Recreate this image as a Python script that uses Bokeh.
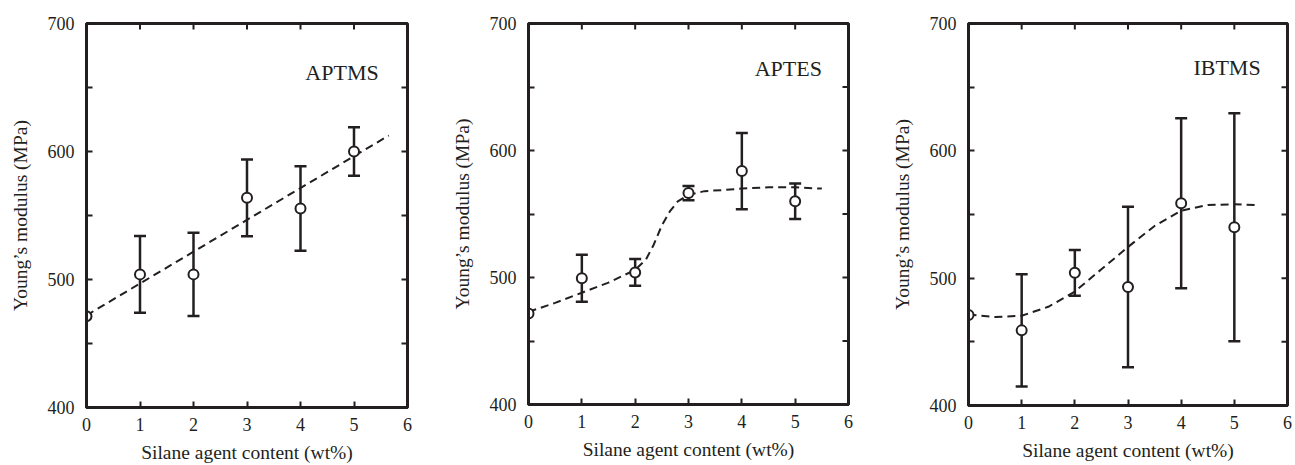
import math
from bokeh.plotting import figure
from bokeh.layouts import row
from bokeh.models import (Range1d, FixedTicker, Whisker, TeeHead,
                          ColumnDataSource, Label)
from bokeh.embed import file_html
from bokeh.resources import INLINE

# ---- data ----
content = [0, 1, 2, 3, 4, 5]
x_ticks = [0, 1, 2, 3, 4, 5, 6]
y_major = [400, 500, 600, 700]
y_minor = [450, 550, 650]
x_lim = (0, 6)
y_lim = (400, 700)

aptms_mean = [471.3, 504, 504, 563.8, 555.5, 600]
aptms_err = [0, 30, 32.5, 30, 33, 19]
aptms_fit_x = [0, 5.65]
aptms_fit_y = [472, 612.5]

aptes_mean = [471.7, 499.5, 504, 566.5, 583.8, 560]
aptes_err = [0, 18.5, 10.5, 5.6, 30, 14]
aptes_fit_x = [0, 0.5, 1, 1.5, 2, 2.2, 2.35, 2.5, 2.65, 2.8, 3.0, 3.3, 3.7, 4, 4.5, 5, 5.5]
aptes_fit_y = [473, 480, 488, 496, 506, 514, 526, 541, 552, 560, 565, 568, 569, 570, 571, 571, 570]

ibtms_mean = [471, 459, 504.2, 493, 558.8, 540]
ibtms_err = [0, 44, 18, 63, 66.7, 89.5]
ibtms_fit_x = [0, 0.5, 1, 1.5, 2, 2.5, 3, 3.5, 4, 4.5, 5, 5.4]
ibtms_fit_y = [471.5, 469.5, 470.5, 477.5, 489.5, 507, 524.5, 541, 553, 557.5, 558, 557.5]

INK = "#231f20"
FONT = "Liberation Serif"


def style_axis(ax):
    ax.axis_line_color = INK
    ax.axis_line_width = 3
    ax.major_tick_line_color = INK
    ax.minor_tick_line_color = INK
    ax.major_tick_line_width = 2
    ax.minor_tick_line_width = 2
    ax.major_tick_in = 6
    ax.major_tick_out = 0
    ax.minor_tick_in = 6
    ax.minor_tick_out = 0
    ax.major_label_text_font = FONT
    ax.major_label_text_color = INK
    ax.major_label_text_font_size = "18px"
    ax.axis_label_text_font = FONT
    ax.axis_label_text_font_style = "normal"
    ax.axis_label_text_color = INK
    ax.axis_label_text_font_size = "19.5px"


def panel(name, mean, err, fit_x, fit_y, lab_x, lab_y,
          top, left, right, bottom, frame_w, frame_h):
    p = figure(frame_width=frame_w, frame_height=frame_h,
               x_range=Range1d(*x_lim), y_range=Range1d(*y_lim),
               output_backend="svg", toolbar_location=None,
               min_border_top=top, min_border_left=left,
               min_border_right=right, min_border_bottom=bottom,
               x_axis_label="Silane agent content (wt%)",
               y_axis_label="Young\u2019s modulus (MPa)")
    p.background_fill_color = "white"
    p.border_fill_color = "white"
    p.outline_line_color = INK
    p.outline_line_width = 3
    p.grid.visible = False

    p.xaxis.ticker = FixedTicker(ticks=x_ticks, minor_ticks=[])
    p.yaxis.ticker = FixedTicker(ticks=y_major, minor_ticks=y_minor)
    style_axis(p.xaxis[0])
    style_axis(p.yaxis[0])
    p.xaxis[0].major_label_standoff = 10
    p.xaxis[0].axis_label_standoff = 8
    p.yaxis[0].major_label_standoff = 12
    p.yaxis[0].axis_label_standoff = 14

    # inward ticks on the top and right frame edges
    p.ray(x=x_ticks[1:-1], y=[y_lim[1]] * (len(x_ticks) - 2), length=6,
          length_units="screen", angle=-math.pi / 2,
          line_color=INK, line_width=2)
    yt = sorted(y_major[1:-1] + y_minor)
    p.ray(x=[x_lim[1]] * len(yt), y=yt, length=6, length_units="screen",
          angle=math.pi, line_color=INK, line_width=2)

    # fit line
    p.line(fit_x, fit_y, line_color=INK, line_width=2, line_dash="8 5")

    # error bars
    xs = [c for c, e in zip(content, err) if e > 0]
    up = [m + e for m, e in zip(mean, err) if e > 0]
    lo = [m - e for m, e in zip(mean, err) if e > 0]
    src = ColumnDataSource(dict(x=xs, upper=up, lower=lo))
    w = Whisker(base="x", upper="upper", lower="lower", source=src,
                line_color=INK, line_width=2.5, level="underlay",
                upper_head=TeeHead(size=12, line_color=INK, line_width=2.5),
                lower_head=TeeHead(size=12, line_color=INK, line_width=2.5))
    p.add_layout(w)

    p.scatter(content, mean, marker="circle", size=10, fill_color="white",
              line_color=INK, line_width=2)

    p.add_layout(Label(x=lab_x, y=lab_y, text=name, text_font=FONT,
                       text_font_size="22px", text_color=INK,
                       text_baseline="alphabetic"))
    return p


p1 = panel("APTMS", aptms_mean, aptms_err, aptms_fit_x, aptms_fit_y, 4.09, 661.7,
           19, 86, 34, 61, 321, 384)
p2 = panel("APTES", aptes_mean, aptes_err, aptes_fit_x, aptes_fit_y, 4.24, 664.6,
           23, 87, 32, 60, 320, 381)
p3 = panel("IBTMS", ibtms_mean, ibtms_err, ibtms_fit_x, ibtms_fit_y, 4.23, 665.4,
           22, 88, 6, 60, 319, 382)

layout = row(p1, p2, p3, spacing=0)
open("out.html", "w").write(file_html(layout, INLINE))
